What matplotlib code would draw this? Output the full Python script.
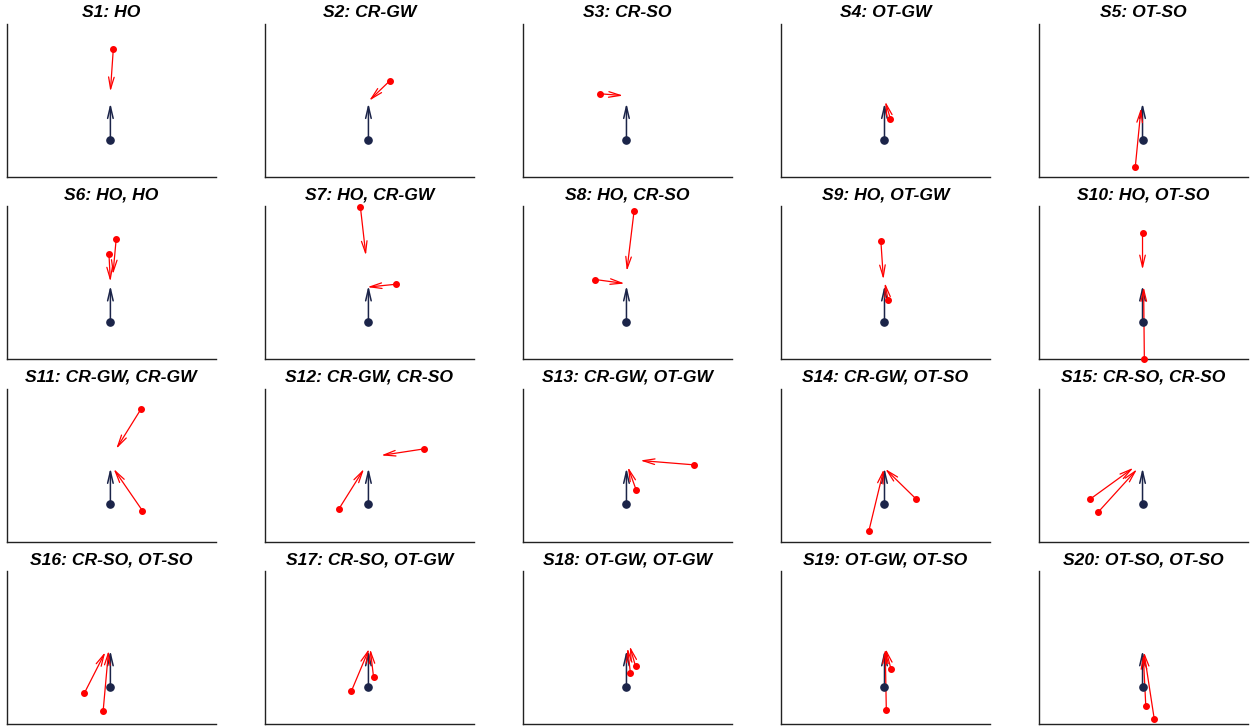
import matplotlib
matplotlib.use("Agg")
import matplotlib.pyplot as plt

plt.rcParams['font.family'] = ['Liberation Sans', 'DejaVu Sans']

titles = [
    "S1: HO", "S2: CR-GW", "S3: CR-SO", "S4: OT-GW", "S5: OT-SO",
    "S6: HO, HO", "S7: HO, CR-GW", "S8: HO, CR-SO", "S9: HO, OT-GW", "S10: HO, OT-SO",
    "S11: CR-GW, CR-GW", "S12: CR-GW, CR-SO", "S13: CR-GW, OT-GW", "S14: CR-GW, OT-SO", "S15: CR-SO, CR-SO",
    "S16: CR-SO, OT-SO", "S17: CR-SO, OT-GW", "S18: OT-GW, OT-GW", "S19: OT-GW, OT-SO", "S20: OT-SO, OT-SO",
]

# reference direction (navy) shared by every panel
ref_origin = (0.0, 0.0)
ref_tip = (0.0, 1.0)

# observed vectors (red): start points and end points, one list per panel
red_x0 = [[0.08], [0.59], [-0.72], [0.16], [-0.20],
          [-0.04, 0.16], [-0.22, 0.76], [0.21, -0.86], [-0.10, 0.10], [0.00, 0.05],
          [0.85, 0.88], [1.53, -0.81], [1.86, 0.27], [0.86, -0.43], [-1.45, -1.21],
          [-0.72, -0.20], [-0.47, 0.14], [0.25, 0.11], [0.18, 0.05], [0.09, 0.32]]
red_y0 = [[2.49], [1.62], [1.26], [0.58], [-0.76],
          [1.88, 2.29], [3.16, 1.04], [3.06, 1.17], [2.24, 0.60], [2.44, -1.02],
          [2.64, -0.17], [1.53, -0.12], [1.09, 0.39], [0.16, -0.73], [0.14, -0.20],
          [-0.18, -0.67], [-0.12, 0.28], [0.57, 0.37], [0.49, -0.64], [-0.53, -0.87]]
red_x1 = [[0.00], [0.02], [-0.09], [0.02], [-0.04],
          [0.00, 0.07], [-0.07, -0.03], [0.01, -0.05], [-0.03, 0.01], [0.00, 0.03],
          [0.16, 0.09], [0.35, -0.12], [0.38, 0.04], [0.02, -0.02], [-0.25, -0.15],
          [-0.14, -0.05], [0.02, 0.05], [0.09, 0.03], [0.03, 0.02], [0.02, 0.04]]
red_y1 = [[1.32], [1.07], [1.21], [1.05], [0.87],
          [1.11, 1.31], [1.83, 0.96], [1.40, 1.06], [1.17, 1.08], [1.44, 0.97],
          [1.53, 0.98], [1.35, 0.98], [1.21, 1.03], [0.98, 0.97], [1.01, 0.97],
          [0.96, 1.00], [1.05, 1.04], [1.12, 1.07], [1.05, 1.04], [0.89, 0.96]]

navy = "#1b2449"
red = "#ff0000"

fig, axes = plt.subplots(4, 5, figsize=(12.57, 7.27), dpi=100)
fig.subplots_adjust(left=0.0053, right=0.9929, top=0.967, bottom=0.0041,
                    wspace=0.233, hspace=0.195)

for i, ax in enumerate(axes.flat):
    ax.set_xlim(-2.85, 2.9)
    ax.set_ylim(-1.02, 3.18)
    ax.set_xticks([])
    ax.set_yticks([])
    for side in ("top", "right"):
        ax.spines[side].set_visible(False)
    for side in ("left", "bottom"):
        ax.spines[side].set_color("#222222")
        ax.spines[side].set_linewidth(1.0)

    ax.annotate("", xy=ref_tip, xytext=ref_origin,
                arrowprops=dict(arrowstyle="->,head_length=0.85,head_width=0.2",
                                color=navy, lw=1.1, shrinkA=0, shrinkB=0),
                zorder=2)
    ax.plot(*ref_origin, "o", color=navy, markersize=5.2, zorder=4)

    for x0, y0, x1, y1 in zip(red_x0[i], red_y0[i], red_x1[i], red_y1[i]):
        ax.annotate("", xy=(x1, y1), xytext=(x0, y0),
                    arrowprops=dict(arrowstyle="->,head_length=0.85,head_width=0.2",
                                    color=red, lw=0.9, shrinkA=0, shrinkB=0),
                    zorder=3)
        ax.plot(x0, y0, "o", color=red, markersize=4.0, zorder=5, clip_on=False)

    ax.set_title(titles[i], fontsize=12.6, fontweight="bold", fontstyle="italic", pad=5)

fig.savefig("out.png", dpi=100)
